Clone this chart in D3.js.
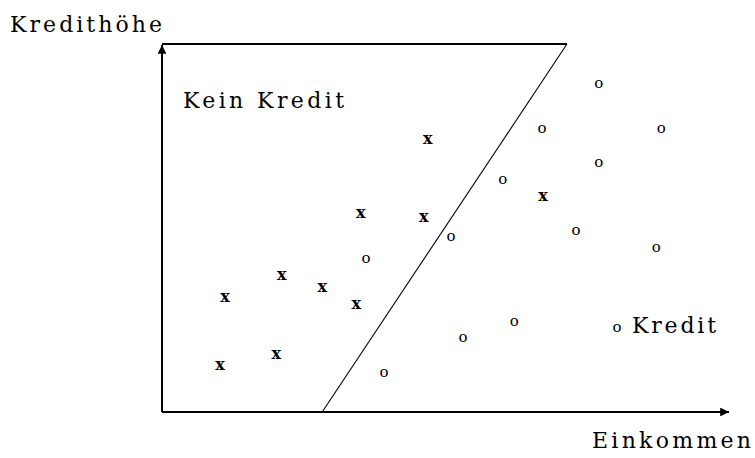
<!DOCTYPE html>
<html>
<head>
  <meta charset='utf-8'>
  <style>
    body { margin: 0; background: #fff; }
  </style>
  <script src='https://cdn.jsdelivr.net/npm/d3@7'></script>
</head>
<body>
  <script>
    // Einkommen / Kredithöhe, beide auf 0..100 normiert
    const xPoints = [[46.8, 73.9], [35.0, 53.8], [46.1, 52.7], [21.1, 37.0], [28.2, 33.7],
      [11.1, 31.0], [34.2, 29.1], [20.1, 15.5], [10.2, 12.5], [67.1, 58.4]]
    const oPoints = [[76.9, 89.1], [66.9, 76.9], [87.9, 76.9], [76.9, 67.7], [60.0, 63.0],
      [50.9, 47.6], [72.9, 49.2], [87.0, 44.6], [35.9, 41.6], [62.0, 24.5],
      [53.0, 20.1], [39.1, 10.6], [80.1, 22.8]]
    const boundary = [[0, 100], [71.3, 100], [28.2, 0]]
    const labels = { y: 'Kredithöhe', x: 'Einkommen', no: 'Kein Kredit', yes: 'Kredit' }

    const serif = "'DejaVu Serif', serif"
    const width = 755, height = 458
    const svg = d3.select('body').append('svg')
      .attr('width', width).attr('height', height)
      .style('font-family', serif)

    const x = d3.scaleLinear([0, 100], [162, 730])
    const y = d3.scaleLinear([0, 100], [412, 44])

    svg.append('defs').append('marker')
      .attr('id', 'arr').attr('viewBox', '0 0 10 10')
      .attr('refX', 10).attr('refY', 5)
      .attr('markerWidth', 5).attr('markerHeight', 4.4)
      .attr('orient', 'auto')
      .append('path').attr('d', 'M0,0L10,5L0,10Z').attr('fill', '#000')

    // Achsen
    svg.append('line')
      .attr('x1', x(0)).attr('y1', y(0)).attr('x2', x(100) - 1).attr('y2', y(0))
      .attr('stroke', '#000').attr('stroke-width', 2).attr('marker-end', 'url(#arr)')
    svg.append('line')
      .attr('x1', x(0)).attr('y1', y(0)).attr('x2', x(0)).attr('y2', y(100) + 1)
      .attr('stroke', '#000').attr('stroke-width', 2).attr('marker-end', 'url(#arr)')

    // Trennlinie
    svg.append('line')
      .attr('x1', x(boundary[0][0])).attr('y1', y(boundary[0][1]))
      .attr('x2', x(boundary[1][0])).attr('y2', y(boundary[1][1]))
      .attr('stroke', '#000').attr('stroke-width', 2)
    svg.append('line')
      .attr('x1', x(boundary[1][0])).attr('y1', y(boundary[1][1]))
      .attr('x2', x(boundary[2][0])).attr('y2', y(boundary[2][1]))
      .attr('stroke', '#000').attr('stroke-width', 1.1)

    svg.selectAll('.px').data(xPoints).enter().append('text')
      .attr('font-family', serif)
      .attr('x', d => x(d[0])).attr('y', d => y(d[1]))
      .attr('dy', '0.26em').attr('text-anchor', 'middle')
      .attr('font-size', 16).attr('font-weight', 'bold')
      .text('x')

    svg.selectAll('.po').data(oPoints).enter().append('text')
      .attr('font-family', serif)
      .attr('x', d => x(d[0])).attr('y', d => y(d[1]))
      .attr('dy', '0.26em').attr('text-anchor', 'middle')
      .attr('font-size', 15)
      .text('o')

    const label = (t, px, py, len) => svg.append('text')
      .attr('font-family', serif)
      .attr('x', px).attr('y', py).attr('font-size', 22)
      .attr('textLength', len).attr('lengthAdjust', 'spacing')
      .text(t)

    label(labels.y, 10, 32, 152)
    label(labels.x, 592, 448, 159)
    label(labels.no, 183, 108, 161)
    label(labels.yes, 632, 333, 84)
  </script>
</body>
</html>
